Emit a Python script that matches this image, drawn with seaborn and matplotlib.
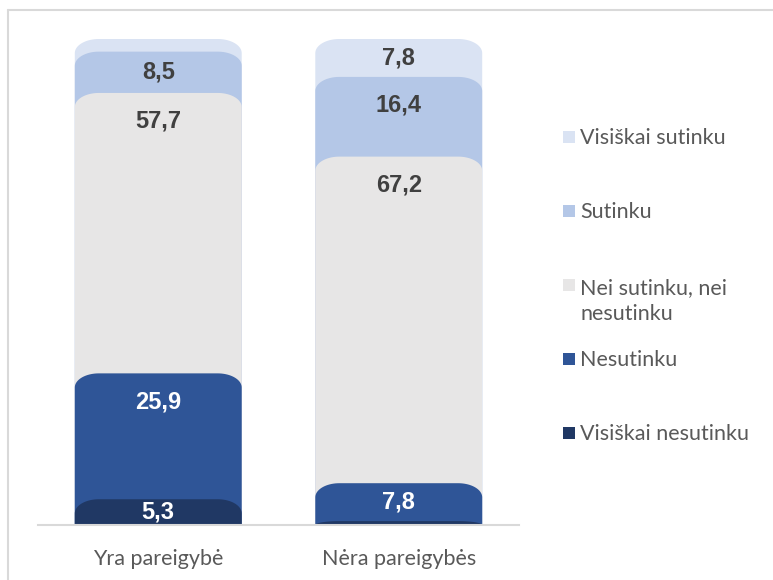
import matplotlib
matplotlib.use('Agg')
import matplotlib.pyplot as plt
import seaborn as sns
import numpy as np
import pandas as pd
from matplotlib.path import Path
from matplotlib.patches import PathPatch, Rectangle
from matplotlib.lines import Line2D

# data
groups = ['Yra pareigybė', 'Nėra pareigybės']
levels = ['Visiškai nesutinku', 'Nesutinku', 'Nei sutinku, nei nesutinku', 'Sutinku', 'Visiškai sutinku']
visiskai_nesutinku = [5.3, 0.8]
nesutinku = [25.9, 7.8]
nei_nei = [57.7, 67.2]
sutinku = [8.5, 16.4]
visiskai_sutinku = [2.6, 7.8]
legend_labels = {'Nei sutinku, nei nesutinku': 'Nei sutinku, nei\nnesutinku'}

colors = {'Visiškai nesutinku': '#203864', 'Nesutinku': '#2F5597',
          'Nei sutinku, nei nesutinku': '#E7E6E6', 'Sutinku': '#B4C7E7',
          'Visiškai sutinku': '#DAE3F3'}
text_colors = {'Visiškai nesutinku': 'white', 'Nesutinku': 'white',
               'Nei sutinku, nei nesutinku': '#404040', 'Sutinku': '#404040',
               'Visiškai sutinku': '#404040'}

series = [visiskai_nesutinku, nesutinku, nei_nei, sutinku, visiskai_sutinku]
rows = []
for gi, g in enumerate(groups):
    bottom = 0
    for lvl, vals in zip(levels, series):
        rows.append({'group': g, 'level': lvl, 'value': vals[gi],
                     'bottom': bottom, 'top': bottom + vals[gi]})
        bottom += vals[gi]
df = pd.DataFrame(rows)

sns.set_theme(style='white')
plt.rcParams['font.family'] = ['Lato', 'DejaVu Sans']

W, H = 773, 580
fig = plt.figure(figsize=(W / 100, H / 100), dpi=100)
ax = fig.add_axes([38 / W, 55 / H, 481 / W, 486 / H])

hue_order = levels[::-1]
sns.barplot(data=df, x='group', y='top', hue='level', hue_order=hue_order,
            order=groups, palette=colors, dodge=False, width=0.694,
            saturation=1, legend=False, ax=ax)

# rounded tops: replace rectangles
rx, ry_max = 0.1, 2.9
t = np.linspace(0, np.pi / 2, 20)
for cont, lvl in zip(ax.containers, hue_order):
    for bar in cont:
        x, y = bar.get_x(), bar.get_y()
        w, h = bar.get_width(), bar.get_height()
        ry = min(ry_max, h)
        left = np.column_stack([x + rx - rx * np.cos(t), y + h - ry + ry * np.sin(t)])
        right = np.column_stack([x + w - rx + rx * np.sin(t), y + h - ry + ry * np.cos(t)])
        verts = np.vstack([[x, y], left, right, [x + w, y], [x, y]])
        codes = [Path.MOVETO] + [Path.LINETO] * (len(verts) - 2) + [Path.CLOSEPOLY]
        bar.remove()
        ax.add_patch(PathPatch(Path(verts, codes), facecolor=colors[lvl],
                               edgecolor='none', zorder=2))

# value labels
for _, r in df.iterrows():
    if r['value'] < 5:
        continue
    xi = groups.index(r['group'])
    yy = r['top'] - min(r['value'] / 2, 5.8)
    ax.text(xi, yy, f"{r['value']:.1f}".replace('.', ','), ha='center', va='center',
            fontsize=17, fontweight='bold', color=text_colors[r['level']],
            family=['Liberation Sans', 'DejaVu Sans'], zorder=5)

ax.set_xlim(-0.5, 1.5)
ax.set_ylim(0, 100)
ax.set_xlabel('')
ax.set_ylabel('')
ax.set_yticks([])
ax.tick_params(axis='x', length=0, pad=17, labelsize=15.5, labelcolor='#595959')
for s in ['top', 'right', 'left']:
    ax.spines[s].set_visible(False)
ax.spines['bottom'].set_color('#D9D9D9')
ax.spines['bottom'].set_linewidth(1.5)

# legend, evenly spaced entries (first line of each label)
leg_y0, leg_step, line_h = 137, 74, 28
for i, lvl in enumerate(hue_order):
    yc = leg_y0 + i * leg_step
    lab = legend_labels.get(lvl, lvl)
    extra = (lab.count('\n')) * line_h
    fig.add_artist(Rectangle((563 / W, 1 - (yc + 6) / H), 12 / W, 12 / H,
                             transform=fig.transFigure, facecolor=colors[lvl],
                             edgecolor='none'))
    fig.text(580 / W, 1 - (yc + 7.5 + extra) / H, lab, ha='left',
             va='baseline', fontsize=15.5, color='#595959', linespacing=1.43)

# chart frame
fig.add_artist(Line2D([8 / W, 1.0], [1 - 10 / H] * 2, color='#D9D9D9', lw=1.5))
fig.add_artist(Line2D([8 / W] * 2, [0, 1 - 10 / H], color='#D9D9D9', lw=1.5))

fig.savefig('out.png', dpi=100)
plt.close('all')
